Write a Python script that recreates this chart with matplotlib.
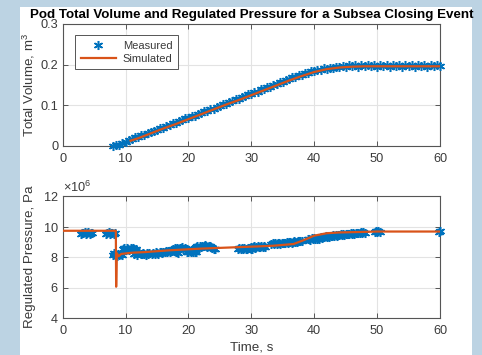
import numpy as np
import matplotlib
matplotlib.use("Agg")
import matplotlib.pyplot as plt
from matplotlib.patches import Rectangle
from matplotlib.ticker import ScalarFormatter

plt.rcParams['font.family'] = ['Liberation Sans', 'DejaVu Sans']
plt.rcParams['mathtext.fontset'] = 'custom'
plt.rcParams['mathtext.rm'] = 'Liberation Sans'

# ---------------- data ----------------
vol_meas_t = [8.0, 8.5, 9.0, 9.5, 10.0, 10.5, 11.0, 11.5, 12.0, 12.5, 13.0, 13.5, 14.0, 14.5,
              15.0, 15.5, 16.0, 16.5, 17.0, 17.5, 18.0, 18.5, 19.0, 19.5, 20.0, 20.5, 21.0, 21.5,
              22.0, 22.5, 23.0, 23.5, 24.0, 24.5, 25.0, 25.5, 26.0, 26.5, 27.0, 27.5, 28.0, 28.5,
              29.0, 29.5, 30.0, 30.5, 31.0, 31.5, 32.0, 32.5, 33.0, 33.5, 34.0, 34.5, 35.0, 35.5,
              36.0, 36.5, 37.0, 37.5, 38.0, 38.5, 39.0, 39.5, 40.0, 40.5, 41.0, 41.5, 42.0, 42.5,
              43.0, 43.5, 44.0, 44.5, 45.0, 45.5, 46.0, 46.5, 47.0, 47.5, 48.0, 48.5, 49.0, 49.5,
              50.0, 50.5, 51.0, 51.5, 52.0, 52.5, 53.0, 53.5, 54.0, 54.5, 55.0, 55.5, 56.0, 56.5,
              57.0, 57.5, 58.0, 58.5, 59.0, 59.5, 60.0]
vol_meas_v = [0.000, 0.003, 0.002, 0.007, 0.009, 0.014, 0.016, 0.021, 0.022, 0.027, 0.028, 0.032,
              0.034, 0.038, 0.039, 0.044, 0.045, 0.050, 0.051, 0.056, 0.057, 0.062, 0.063, 0.068,
              0.069, 0.074, 0.075, 0.079, 0.080, 0.085, 0.086, 0.091, 0.092, 0.097, 0.098, 0.103,
              0.104, 0.109, 0.110, 0.115, 0.116, 0.121, 0.122, 0.127, 0.128, 0.133, 0.134, 0.139,
              0.140, 0.145, 0.146, 0.151, 0.152, 0.157, 0.158, 0.163, 0.164, 0.169, 0.170, 0.174,
              0.175, 0.179, 0.180, 0.184, 0.184, 0.188, 0.187, 0.191, 0.190, 0.193, 0.192, 0.195,
              0.194, 0.196, 0.195, 0.198, 0.196, 0.198, 0.195, 0.198, 0.196, 0.199, 0.196, 0.198,
              0.195, 0.199, 0.196, 0.198, 0.195, 0.199, 0.196, 0.198, 0.195, 0.199, 0.196, 0.198,
              0.195, 0.199, 0.196, 0.198, 0.195, 0.199, 0.196, 0.198, 0.197]

vol_sim_t = [10.8, 12, 14, 16, 18, 20, 22, 24, 26, 28, 30, 32, 34, 36, 38, 40, 42, 44, 46, 48, 50, 55, 60]
vol_sim_v = [0.013, 0.019, 0.031, 0.043, 0.054, 0.066, 0.078, 0.090, 0.102, 0.113, 0.125, 0.137,
             0.149, 0.161, 0.172, 0.182, 0.189, 0.193, 0.195, 0.196, 0.196, 0.196, 0.196]

# pressure, in units of 1e6 Pa
pres_meas_t = [2.9, 3.1, 3.3, 3.5, 3.7, 3.9, 4.1, 4.3, 4.5, 4.7,
               6.9, 7.1, 7.3, 7.5, 7.7, 7.9, 8.1, 8.3,
               8.0, 8.2, 8.4, 8.6, 8.8, 9.0, 9.2, 9.4,
               9.6, 9.8, 10.0, 10.2, 10.4, 10.6, 10.8, 11.0, 11.2, 11.4, 11.6,
               11.4, 11.6, 11.8, 12.0, 12.2, 12.4, 12.6, 12.8, 13.0, 13.2, 13.4, 13.6, 13.8,
               14.2, 14.4, 14.6, 14.8, 15.0, 15.2, 15.4, 15.6, 15.8, 16.0, 16.2, 16.4, 16.6, 16.8,
               17.0, 17.2, 17.4, 17.6, 17.8, 18.0, 18.2, 18.4,
               17.6, 17.8, 18.0, 18.2, 18.4, 18.6, 18.8, 19.0, 19.2, 19.4, 19.6, 19.8,
               19.8, 20.0, 20.2, 20.4, 20.6, 20.8, 21.0, 21.2,
               21.0, 21.2, 21.4, 21.6, 21.8, 22.0, 22.2, 22.4, 22.6, 22.8, 23.0, 23.2, 23.4, 23.6,
               23.8, 24.0, 24.2,
               27.9, 28.1, 28.3, 28.5, 28.7, 28.9, 29.1, 29.3, 29.5, 29.7, 29.9, 30.1,
               29.8, 30.0, 30.2, 30.4, 30.6, 30.8, 31.0, 31.2, 31.4, 31.6, 31.8, 32.0, 32.2,
               33.2, 33.4, 33.6, 33.8, 34.0, 34.2, 34.4, 34.6, 34.8, 35.0, 35.2, 35.4, 35.6, 35.8,
               36.0, 36.2, 36.4, 36.6, 36.8, 37.0, 37.2, 37.4, 37.6, 37.8, 38.0,
               39.0, 39.2, 39.4, 39.6, 39.8, 40.0, 40.2, 40.4, 40.6, 40.8,
               41.0, 41.2, 41.4, 41.6, 41.8, 42.0, 42.2, 42.4, 42.6, 42.8, 43.0, 43.2, 43.4, 43.6,
               43.8, 44.0, 44.2, 44.4, 44.6, 44.8, 45.0, 45.2, 45.4, 45.6, 45.8, 46.0, 46.2, 46.4,
               46.6, 46.8, 47.0, 47.2, 47.4, 47.6, 47.8, 48.0,
               49.6, 49.8, 50.0, 50.2, 50.4,
               59.8, 60.0]
pres_meas_v = [9.52, 9.60, 9.55, 9.62, 9.50, 9.58, 9.64, 9.53, 9.60, 9.55,
               9.50, 9.58, 9.62, 9.52, 9.60, 9.55, 9.50, 9.60,
               8.10, 8.25, 8.15, 8.05, 8.20, 8.10, 8.22, 8.12,
               8.50, 8.60, 8.45, 8.62, 8.55, 8.48, 8.60, 8.52, 8.58, 8.50, 8.55,
               8.20, 8.28, 8.15, 8.25, 8.30, 8.18, 8.22, 8.27, 8.20, 8.15, 8.25, 8.20, 8.28,
               8.20, 8.28, 8.22, 8.30, 8.25, 8.20, 8.30, 8.35, 8.28, 8.32, 8.30, 8.38, 8.35, 8.40,
               8.35, 8.42, 8.38, 8.45, 8.40, 8.30, 8.35, 8.25,
               8.50, 8.58, 8.55, 8.62, 8.52, 8.60, 8.57, 8.65, 8.55, 8.60, 8.52, 8.50,
               8.35, 8.30, 8.40, 8.32, 8.38, 8.30, 8.36, 8.35,
               8.60, 8.65, 8.70, 8.62, 8.72, 8.68, 8.75, 8.70, 8.78, 8.72, 8.68, 8.75, 8.70, 8.65,
               8.60, 8.55, 8.50,
               8.55, 8.60, 8.50, 8.58, 8.55, 8.62, 8.52, 8.50, 8.56, 8.60, 8.52, 8.50,
               8.62, 8.68, 8.65, 8.70, 8.60, 8.66, 8.70, 8.64, 8.68, 8.72, 8.66, 8.70, 8.65,
               8.85, 8.90, 8.86, 8.92, 8.88, 8.90, 8.94, 8.88, 8.92, 8.95, 8.90, 8.94, 8.97, 8.92,
               8.96, 9.00, 8.95, 8.98, 9.02, 8.98, 9.00, 9.05, 9.02, 9.08, 9.05,
               9.15, 9.20, 9.12, 9.22, 9.18, 9.25, 9.20, 9.15, 9.22, 9.20,
               9.30, 9.26, 9.33, 9.28, 9.36, 9.31, 9.38, 9.34, 9.40, 9.36, 9.42, 9.38, 9.44, 9.40,
               9.46, 9.42, 9.48, 9.44, 9.50, 9.46, 9.52, 9.48, 9.54, 9.50, 9.56, 9.52, 9.57, 9.53,
               9.59, 9.55, 9.60, 9.56, 9.62, 9.58, 9.63, 9.60,
               9.62, 9.70, 9.65, 9.72, 9.66,
               9.65, 9.70]

pres_sim_t = [0, 8.45, 8.5, 8.6, 8.9, 9.3, 11, 13, 17, 22, 27, 31.4, 33.5, 36.7, 38.3, 40, 42, 44,
              47.3, 50, 60]
pres_sim_v = [9.72, 9.72, 6.05, 8.25, 8.05, 8.20, 8.28, 8.32, 8.44, 8.55, 8.63, 8.70, 8.74, 8.85,
              9.10, 9.40, 9.56, 9.61, 9.64, 9.67, 9.67]

x_ticks = [0, 10, 20, 30, 40, 50, 60]
vol_ticks = [0, 0.1, 0.2, 0.3]
pres_ticks = [4e6, 6e6, 8e6, 10e6, 12e6]

BLUE = '#0072BD'
ORANGE = '#D95319'
AX_COL = '#555555'
TXT_COL = '#3a3a3a'
STAR = (6, 2, 0)

W, H = 482, 355
fig = plt.figure(figsize=(W / 100, H / 100), dpi=100)
fig.patch.set_facecolor('#bcd3e3')
bg = fig.add_axes([0, 0, 1, 1], zorder=-10)
bg.set_xlim(0, W)
bg.set_ylim(H, 0)
bg.axis('off')
bg.add_patch(Rectangle((20, 7), 452, H - 7, facecolor='white', edgecolor='none'))

ax1 = fig.add_axes([62.7 / W, 1 - 146 / H, 377.3 / W, 122 / H])
ax2 = fig.add_axes([62.7 / W, 1 - 318 / H, 377.3 / W, 122 / H])


def style(ax):
    ax.set_xlim(0, 60)
    ax.set_xticks(x_ticks)
    ax.grid(True, color='#e3e3e3', linewidth=0.8)
    ax.set_axisbelow(True)
    for s in ax.spines.values():
        s.set_color(AX_COL)
        s.set_linewidth(0.8)
    ax.tick_params(direction='in', length=3.5, width=0.7, color=AX_COL, labelcolor=TXT_COL,
                   labelsize=9.2, top=True, right=True)
    ax.tick_params(axis='x', pad=5)
    ax.tick_params(axis='y', pad=3)


style(ax1)
style(ax2)

ax1.plot(vol_meas_t, vol_meas_v, linestyle='none', marker=STAR, markersize=6.5, color=BLUE,
         markeredgewidth=1.1, label='Measured', zorder=3, clip_on=False)
ax1.plot(vol_sim_t, vol_sim_v, color=ORANGE, linewidth=1.6, label='Simulated', zorder=4)
ax1.set_ylim(0, 0.3)
ax1.set_yticks(vol_ticks)
ax1.set_yticklabels(['0', '0.1', '0.2', '0.3'])
ax1.set_ylabel('Total Volume, m$^3$', fontsize=9.6, color=TXT_COL, labelpad=3)
ax1.set_title('Pod Total Volume and Regulated Pressure for a Subsea Closing Event',
              fontsize=9.6, fontweight='bold', color='black', pad=4)
leg = ax1.legend(loc='upper left', bbox_to_anchor=(0.033, 0.91), borderaxespad=0,
                 fontsize=8, frameon=True, fancybox=False, framealpha=1, edgecolor=AX_COL,
                 handlelength=3.2, borderpad=0.5, labelspacing=0.3, handletextpad=0.6)
leg.get_frame().set_linewidth(0.7)
for t in leg.get_texts():
    t.set_color(TXT_COL)

pm_t = np.array(pres_meas_t)
pm_v = np.array(pres_meas_v) * 1e6
ps_t = np.array(pres_sim_t)
ps_v = np.array(pres_sim_v) * 1e6
ax2.plot(pm_t, pm_v, linestyle='none', marker=STAR, markersize=6.5, color=BLUE,
         markeredgewidth=1.1, zorder=3, clip_on=False)
ax2.plot(ps_t, ps_v, color=ORANGE, linewidth=1.6, zorder=4)
ax2.set_ylim(4e6, 12e6)
ax2.set_yticks(pres_ticks)
fmt = ScalarFormatter(useMathText=True)
fmt.set_powerlimits((6, 6))
ax2.yaxis.set_major_formatter(fmt)
ax2.yaxis.get_offset_text().set_fontsize(9.2)
ax2.yaxis.get_offset_text().set_color(TXT_COL)
ax2.set_ylabel('Regulated Pressure, Pa', fontsize=9.6, color=TXT_COL, labelpad=5)
ax2.set_xlabel('Time, s', fontsize=9.6, color=TXT_COL, labelpad=3)

fig.align_ylabels([ax1, ax2])
fig.savefig('out.png', dpi=100, facecolor=fig.get_facecolor())
